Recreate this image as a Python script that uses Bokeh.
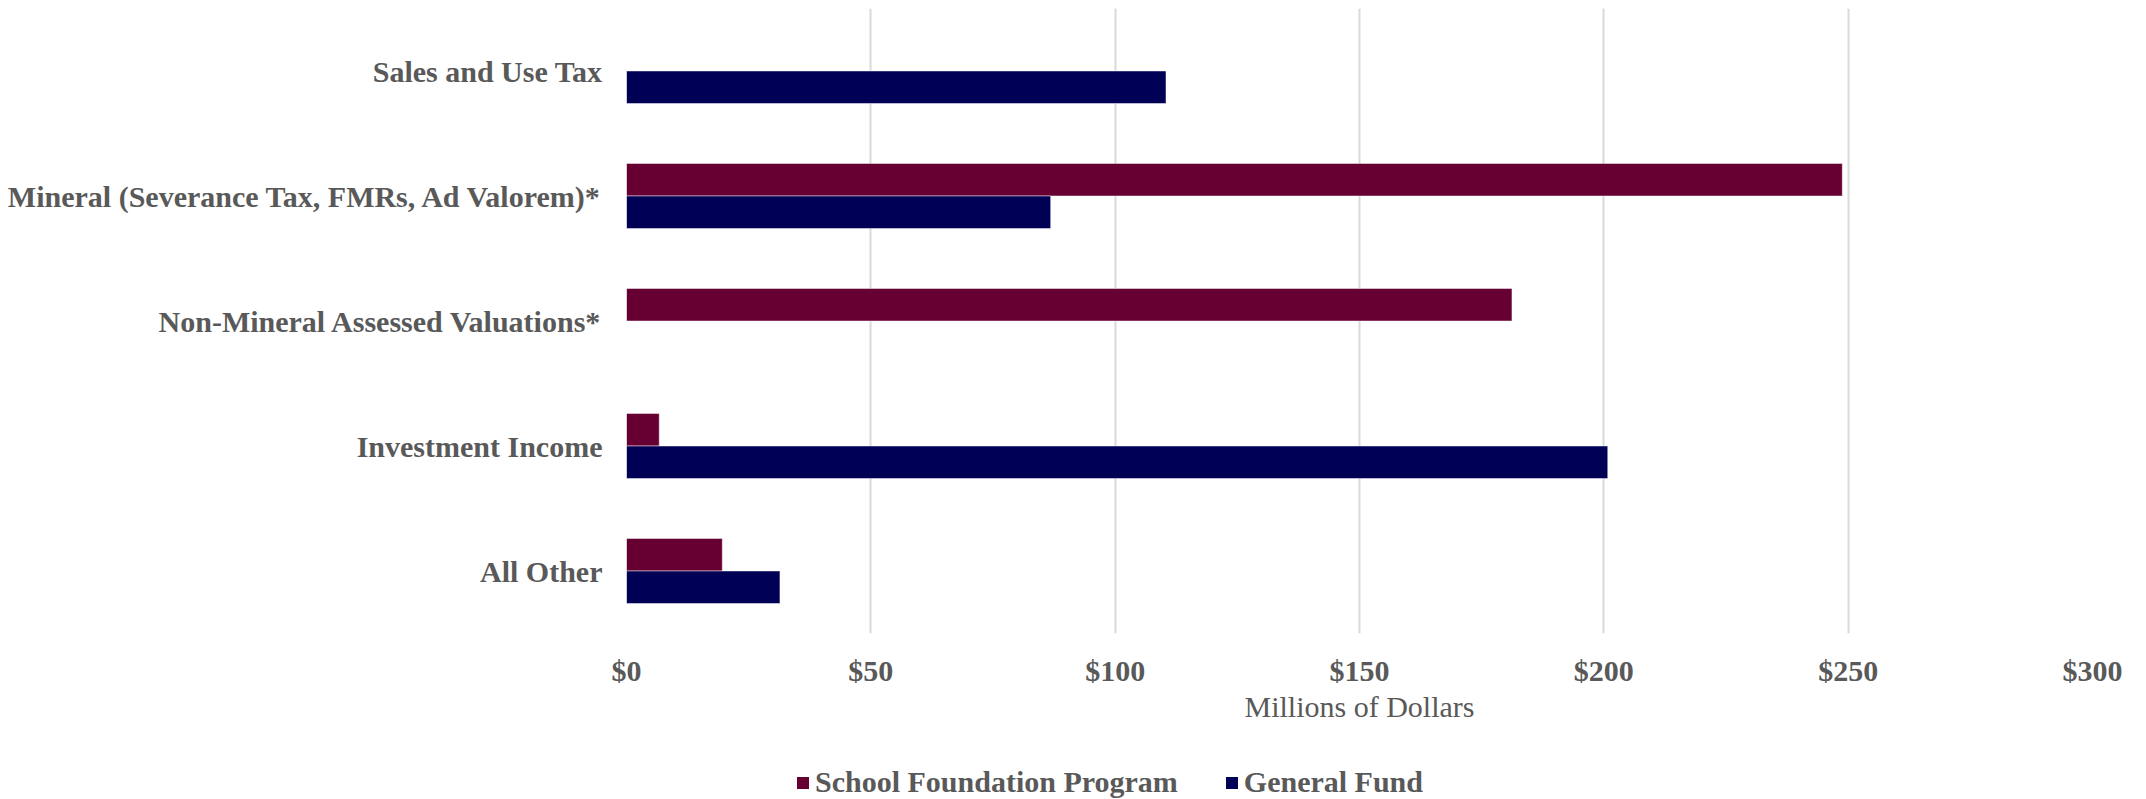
from bokeh.plotting import figure
from bokeh.layouts import column
from bokeh.models import (ColumnDataSource, FactorRange, NumeralTickFormatter, Legend,
                          LegendItem, Range1d, FixedTicker)
from bokeh.transform import dodge
from bokeh.embed import file_html
from bokeh.resources import INLINE

categories = ["Sales and Use Tax",
              "Mineral (Severance Tax, FMRs, Ad Valorem)*",
              "Non-Mineral Assessed Valuations*",
              "Investment Income",
              "All Other"]
school_foundation = [0, 248.8, 181.2, 6.7, 19.6]
general_fund = [110.4, 86.8, 0, 200.8, 31.4]
x_ticks = [0, 50, 100, 150, 200, 250, 300]
series_names = ["School Foundation Program", "General Fund"]
colors = ["#660033", "#000055"]

src = ColumnDataSource(dict(cat=categories, sfp=school_foundation, gf=general_fund))

p = figure(frame_width=1466, frame_height=625,
           y_range=FactorRange(factors=list(reversed(categories))),
           x_range=Range1d(0, 300),
           output_backend="svg", toolbar_location=None,
           min_border_left=626, min_border_right=38, min_border_top=8, min_border_bottom=92)
p.outline_line_color = None
p.background_fill_color = "white"
p.border_fill_color = "white"

r1 = p.hbar(y=dodge("cat", 0.13, range=p.y_range), right="sfp", left=0, height=0.26,
            source=src, fill_color=colors[0], line_color="white", line_alpha=0.45, line_width=1)
r2 = p.hbar(y=dodge("cat", -0.13, range=p.y_range), right="gf", left=0, height=0.26,
            source=src, fill_color=colors[1], line_color="white", line_alpha=0.45, line_width=1)

font = "Liberation Serif"
grey = "#595959"

p.xaxis.ticker = FixedTicker(ticks=x_ticks)
p.xaxis.formatter = NumeralTickFormatter(format="$0")
p.xaxis.axis_line_color = None
p.xaxis.major_tick_line_color = None
p.xaxis.minor_tick_line_color = None
p.xaxis.major_label_text_font = font
p.xaxis.major_label_text_font_style = "bold"
p.xaxis.major_label_text_font_size = "30px"
p.xaxis.major_label_text_color = grey
p.xaxis.major_label_standoff = 14
p.xaxis.axis_label = "Millions of Dollars"
p.xaxis.axis_label_text_font = font
p.xaxis.axis_label_text_font_style = "normal"
p.xaxis.axis_label_text_font_size = "30px"
p.xaxis.axis_label_text_color = grey
p.xaxis.axis_label_standoff = 0

p.yaxis.axis_line_color = None
p.yaxis.major_tick_line_color = None
p.yaxis.minor_tick_line_color = None
p.yaxis.major_label_text_font = font
p.yaxis.major_label_text_font_style = "bold"
p.yaxis.major_label_text_font_size = "30px"
p.yaxis.major_label_text_color = grey
p.yaxis.major_label_standoff = 18

p.ygrid.grid_line_color = None
p.xgrid.grid_line_color = "#d9d9d9"
p.xgrid.grid_line_width = 2

# legend strip below the chart (its frame is aligned with the main frame by the column layout)
lg = figure(width=2130, height=74, x_range=Range1d(0, 1), y_range=Range1d(0, 1),
            x_axis_type=None, y_axis_type=None, output_backend="svg", toolbar_location=None,
            min_border=0)
lg.outline_line_color = None
lg.xgrid.grid_line_color = None
lg.ygrid.grid_line_color = None
# hidden swatch renderers (zero-length, outside the visible range) only used by the legend
swatch = ColumnDataSource(dict(y=[-1], right=[0]))
d1 = lg.hbar(y="y", right="right", height=0.5, source=swatch, fill_color=colors[0], line_color=None)
d2 = lg.hbar(y="y", right="right", height=0.5, source=swatch, fill_color=colors[1], line_color=None)

legend = Legend(items=[LegendItem(label=series_names[0], renderers=[d1]),
                       LegendItem(label=series_names[1], renderers=[d2])],
                orientation="horizontal", location=(169, 0),
                padding=0, margin=0, spacing=46, label_standoff=5,
                glyph_width=15, glyph_height=15, label_height=30,
                border_line_color=None, background_fill_alpha=0,
                label_text_font=font, label_text_font_style="bold",
                label_text_font_size="30px", label_text_color=grey)
lg.add_layout(legend)

layout = column(p, lg, spacing=0)
open("out.html", "w").write(file_html(layout, INLINE))
